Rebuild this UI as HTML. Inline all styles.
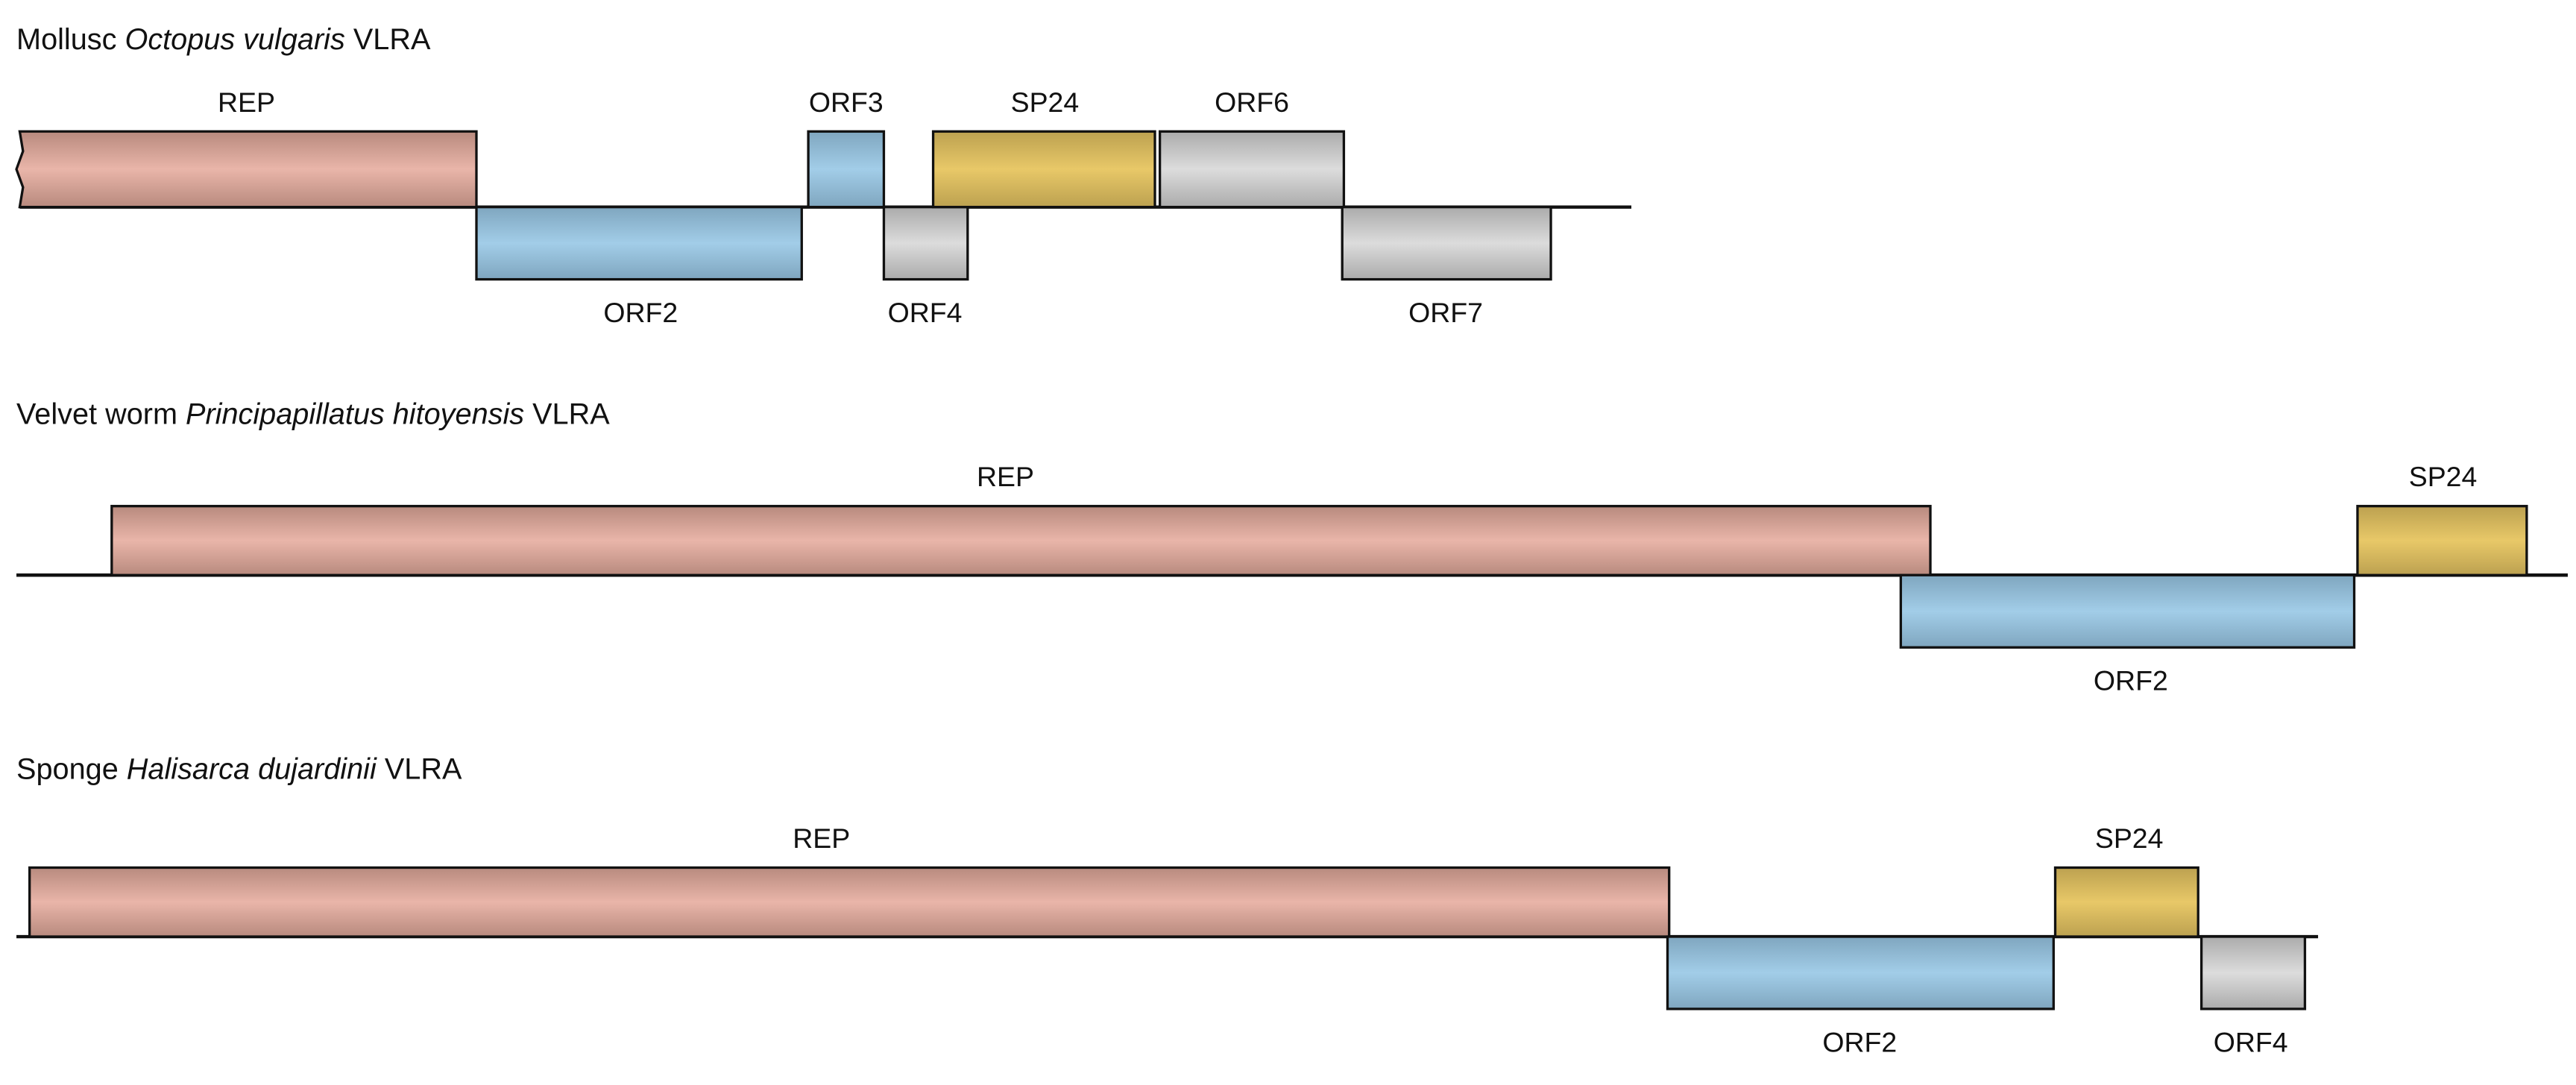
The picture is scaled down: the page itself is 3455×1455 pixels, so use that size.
<!DOCTYPE html>
<html><head><meta charset="utf-8"><style>html,body{margin:0;padding:0;background:#fff}svg{display:block}</style></head>
<body>
<svg width="3455" height="1455" viewBox="0 0 1568 660.3" preserveAspectRatio="none" xmlns="http://www.w3.org/2000/svg" font-family="Liberation Sans, sans-serif">
<defs>
<linearGradient id="p" x1="0" y1="0" x2="0" y2="1"><stop offset="0" stop-color="#b88a7e"/><stop offset="0.5" stop-color="#e9b5a9"/><stop offset="1" stop-color="#b88a7e"/></linearGradient>
<linearGradient id="b" x1="0" y1="0" x2="0" y2="1"><stop offset="0" stop-color="#7fa6bf"/><stop offset="0.5" stop-color="#a2cde8"/><stop offset="1" stop-color="#7fa6bf"/></linearGradient>
<linearGradient id="y" x1="0" y1="0" x2="0" y2="1"><stop offset="0" stop-color="#bca150"/><stop offset="0.5" stop-color="#e8c868"/><stop offset="1" stop-color="#bca150"/></linearGradient>
<linearGradient id="g" x1="0" y1="0" x2="0" y2="1"><stop offset="0" stop-color="#ababab"/><stop offset="0.5" stop-color="#dcdcdc"/><stop offset="1" stop-color="#ababab"/></linearGradient>
</defs>
<g stroke="#111" stroke-width="1.5">
<!-- row1 -->
<line x1="12" y1="126" x2="993" y2="126" stroke-width="2"/>
<path d="M12 80 H290 V126 H12 L14 114 L10 103 L14 92 Z" fill="url(#p)"/>
<rect x="290" y="126" width="198" height="44" fill="url(#b)"/>
<rect x="492" y="80" width="46" height="46" fill="url(#b)"/>
<rect x="538" y="126" width="51" height="44" fill="url(#g)"/>
<rect x="568" y="80" width="135" height="46" fill="url(#y)"/>
<rect x="706" y="80" width="112" height="46" fill="url(#g)"/>
<rect x="817" y="126" width="127" height="44" fill="url(#g)"/>
<!-- row2 -->
<line x1="10" y1="350" x2="1563" y2="350" stroke-width="2"/>
<rect x="68" y="308" width="1107" height="42" fill="url(#p)"/>
<rect x="1157" y="350" width="276" height="44" fill="url(#b)"/>
<rect x="1435" y="308" width="103" height="42" fill="url(#y)"/>
<!-- row3 -->
<line x1="10" y1="570" x2="1411" y2="570" stroke-width="2"/>
<rect x="18" y="528" width="998" height="42" fill="url(#p)"/>
<rect x="1015" y="570" width="235" height="44" fill="url(#b)"/>
<rect x="1251" y="528" width="87" height="42" fill="url(#y)"/>
<rect x="1340" y="570" width="63" height="44" fill="url(#g)"/>
</g>
<g font-size="17" fill="#111">
<text x="10" y="30" font-size="18">Mollusc <tspan font-style="italic">Octopus vulgaris</tspan> VLRA</text>
<text x="10" y="258" font-size="18">Velvet worm <tspan font-style="italic">Principapillatus hitoyensis</tspan> VLRA</text>
<text x="10" y="474" font-size="18">Sponge <tspan font-style="italic">Halisarca dujardinii</tspan> VLRA</text>
<g text-anchor="middle">
<text x="150" y="68">REP</text><text x="515" y="68">ORF3</text><text x="636" y="68">SP24</text><text x="762" y="68">ORF6</text>
<text x="390" y="196">ORF2</text><text x="563" y="196">ORF4</text><text x="880" y="196">ORF7</text>
<text x="612" y="296">REP</text><text x="1487" y="296">SP24</text><text x="1297" y="420">ORF2</text>
<text x="500" y="516">REP</text><text x="1296" y="516">SP24</text><text x="1132" y="640">ORF2</text><text x="1370" y="640">ORF4</text>
</g></g>
</svg>
</body></html>
